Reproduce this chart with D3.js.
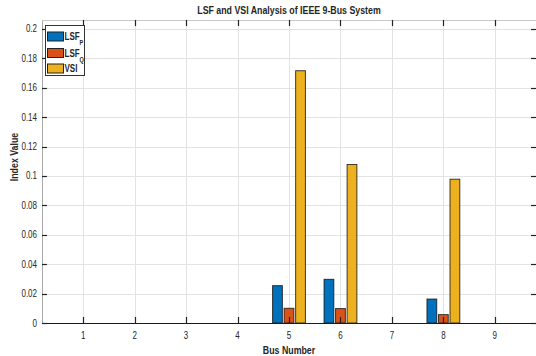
<!DOCTYPE html>
<html>
<head>
<meta charset="utf-8">
<script src="https://cdn.jsdelivr.net/npm/d3@7"></script>
<style>
  body { margin: 0; background: #fff; }
  text { font-family: "Liberation Sans", Arial, sans-serif; fill: #262626; }
</style>
</head>
<body>
<script>
const buses = [1, 2, 3, 4, 5, 6, 7, 8, 9];
const seriesNames = ["LSF", "LSF", "VSI"];
const seriesSubs = ["P", "Q", ""];
const lsfP = [0, 0, 0, 0, 0.0254, 0.0297, 0, 0.0163, 0];
const lsfQ = [0, 0, 0, 0, 0.0100, 0.0098, 0, 0.0057, 0];
const vsi = [0, 0, 0, 0, 0.1716, 0.1078, 0, 0.0978, 0];
const yTicks = [0, 0.02, 0.04, 0.06, 0.08, 0.1, 0.12, 0.14, 0.16, 0.18, 0.2];
const colors = ["#0072BD", "#D95319", "#EDB120"];

const width = 536, height = 356;
const plotL = 42, plotR = 536, plotT = 20, plotB = 323;
const narrow = 0.8; // squeeze text horizontally like the MATLAB export

const svg = d3.select("body").append("svg")
  .attr("width", width)
  .attr("height", height);

const x = d3.scaleLinear().domain([0.2, 9.8]).range([plotL, plotR]);
const y = d3.scaleLinear().domain([0, 0.2061]).range([plotB, plotT]);

function label(parent, px, py, str, size, anchor, bold, rot) {
  const t = parent.append("text")
    .attr("transform", `translate(${px},${py})${rot ? " rotate(-90)" : ""} scale(${narrow},1)`)
    .attr("text-anchor", anchor)
    .attr("font-size", size)
    .text(str);
  if (bold) t.attr("font-weight", "bold");
  return t;
}

// grid
const grid = svg.append("g").attr("stroke", "#e3e3e3").attr("stroke-width", 1);
grid.selectAll("line.h").data(yTicks).enter().append("line")
  .attr("x1", plotL).attr("x2", plotR)
  .attr("y1", d => Math.round(y(d)) + 0.5).attr("y2", d => Math.round(y(d)) + 0.5);
grid.selectAll("line.v").data(buses).enter().append("line")
  .attr("y1", plotT).attr("y2", plotB)
  .attr("x1", d => Math.round(x(d)) + 0.5).attr("x2", d => Math.round(x(d)) + 0.5);

// bars
const series = [lsfP, lsfQ, vsi];
const barW = 0.19, offs = [-0.224, 0, 0.224];
series.forEach((vals, s) => {
  svg.append("g").selectAll("rect").data(vals).enter().append("rect")
    .attr("x", (d, i) => x(buses[i] + offs[s] - barW / 2))
    .attr("width", x(barW) - x(0))
    .attr("y", d => y(d))
    .attr("height", d => y(0) - y(d))
    .attr("fill", colors[s])
    .attr("stroke", "#111")
    .attr("stroke-opacity", 0.8)
    .attr("stroke-width", 1);
});

// box lines
svg.append("line").attr("x1", plotL + 0.5).attr("x2", plotL + 0.5).attr("y1", plotT).attr("y2", plotB)
  .attr("stroke", "#a8a8a8");
svg.append("line").attr("x1", plotL).attr("x2", plotR).attr("y1", plotT + 0.5).attr("y2", plotT + 0.5)
  .attr("stroke", "#c8c8c8");
// baseline
svg.append("line").attr("x1", plotL).attr("x2", plotR).attr("y1", plotB + 0.5).attr("y2", plotB + 0.5)
  .attr("stroke", "#1a1a1a").attr("stroke-width", 1.2);

// ticks
const tk = svg.append("g").attr("stroke", "#222").attr("stroke-width", 1.2);
buses.forEach(b => {
  const px = Math.round(x(b)) + 0.5;
  tk.append("line").attr("x1", px).attr("x2", px).attr("y1", plotB).attr("y2", plotB - 6);
  tk.append("line").attr("x1", px).attr("x2", px).attr("y1", plotT).attr("y2", plotT + 6);
});
yTicks.forEach(t => {
  const py = Math.round(y(t)) + 0.5;
  tk.append("line").attr("x1", plotL).attr("x2", plotL + 5).attr("y1", py).attr("y2", py);
  tk.append("line").attr("x1", plotR - 5).attr("x2", plotR).attr("y1", py).attr("y2", py);
});

// tick labels
const xl = svg.append("g");
buses.forEach(b => label(xl, x(b), 339, b, 10, "middle"));
const yl = svg.append("g");
yTicks.forEach(t => label(yl, 37, y(t) + 3.5, d3.format("~g")(t), 10, "end"));

// titles
label(svg, 289, 14, "LSF and VSI Analysis of IEEE 9-Bus System", 11, "middle", true);
label(svg, 289, 354, "Bus Number", 11, "middle", true);
label(svg, 18, 157, "Index Value", 11, "middle", true, true);

// legend
const lg = svg.append("g");
lg.append("rect").attr("x", 45.5).attr("y", 25.5).attr("width", 39).attr("height", 50)
  .attr("fill", "#fff").attr("stroke", "#333").attr("stroke-width", 1);
const rowY = [32, 48.5, 64];
seriesNames.forEach((name, i) => {
  lg.append("rect").attr("x", 47.5).attr("y", rowY[i]).attr("width", 16).attr("height", 9)
    .attr("fill", colors[i]).attr("stroke", "#222").attr("stroke-width", 1);
  const t = label(lg, 64.5, rowY[i] + 8, name, 10, "start", true);
  if (seriesSubs[i]) {
    t.append("tspan").attr("dy", 5).attr("font-size", 7).text(seriesSubs[i]);
  }
});
</script>
</body>
</html>
